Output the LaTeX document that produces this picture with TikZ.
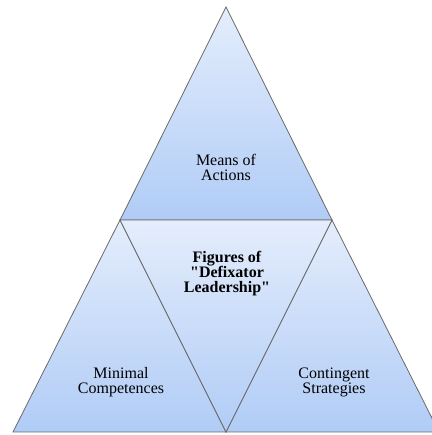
\documentclass[tikz,border=0pt]{standalone}
\usepackage{fontspec}
\setmainfont{Liberation Serif}
\definecolor{segtop}{RGB}{228,237,252}
\definecolor{segbottom}{RGB}{176,204,246}
\definecolor{segline}{RGB}{105,105,105}

\begin{document}
\begin{tikzpicture}[x=1pt, y=1pt,
    segment/.style={top color=segtop, bottom color=segbottom, draw=segline, line width=0.8pt, line join=miter},
    every node/.style={align=center, font=\fontsize{16}{15}\selectfont}]
                \useasboundingbox (0,0) rectangle (431,435);
                \coordinate (apex) at (226, 428);
                \coordinate (lmid) at (120, 215);
                \coordinate (rmid) at (332, 215);
                \coordinate (bleft) at (13, 3);
                \coordinate (bmid) at (226, 3);
                \coordinate (bright) at (439, 3);
                \shade[segment] (apex) -- (lmid) -- (rmid) -- cycle;
                \shade[segment] (lmid) -- (bleft) -- (bmid) -- cycle;
                \shade[segment] (rmid) -- (bmid) -- (bright) -- cycle;
                \shade[segment] (lmid) -- (rmid) -- (bmid) -- cycle;
                \node (means) at (226, 268) {Means of\\Actions};
                \node[font=\fontsize{16}{15}\selectfont\bfseries] (figures) at (227, 161) {Figures of\\\textquotedbl Defixator\\Leadership\textquotedbl};
                \node (minimal) at (121, 53) {Minimal\\Competences};
                \node (contingent) at (334, 53) {Contingent\\Strategies};
            \end{tikzpicture}
\end{document}
